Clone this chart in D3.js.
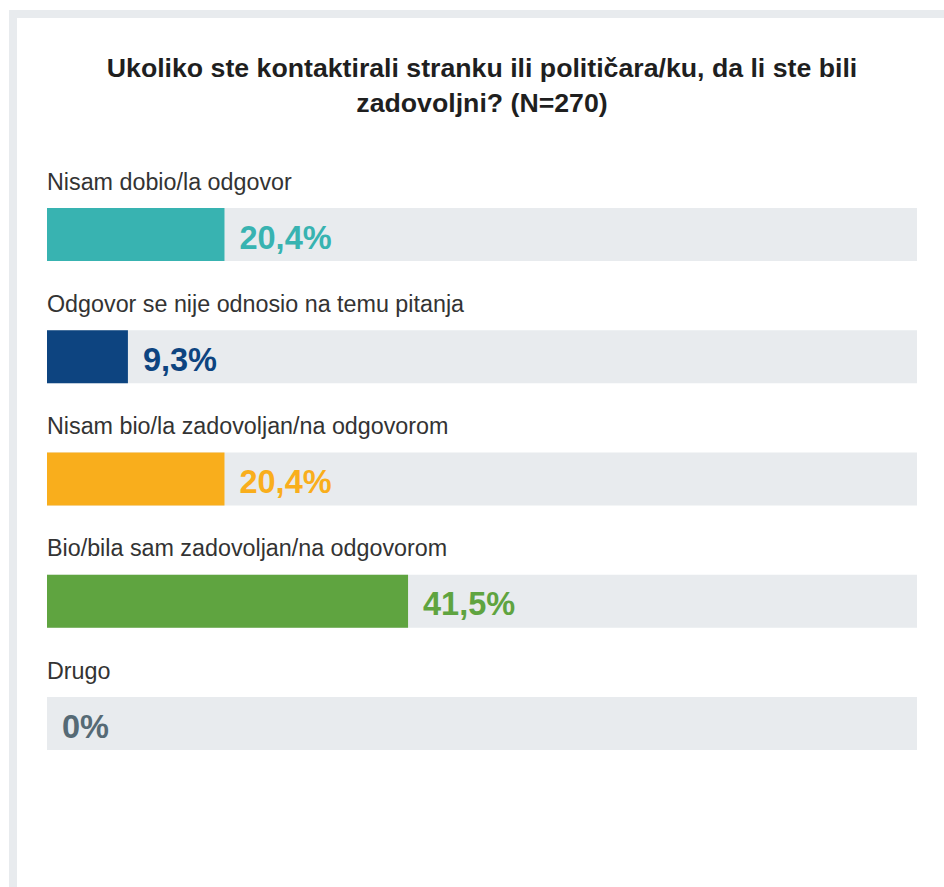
<!DOCTYPE html>
<html>
<head>
<meta charset="utf-8">
<script src="https://cdn.jsdelivr.net/npm/d3@7"></script>
<style>
  html, body { margin: 0; padding: 0; background: #fff; }
  svg { display: block; font-family: "Liberation Sans", Arial, Helvetica, sans-serif; }
</style>
</head>
<body>
<svg id="chart" width="944" height="887"></svg>
<script>
const titleLines = ['Ukoliko ste kontaktirali stranku ili političara/ku, da li ste bili', 'zadovoljni? (N=270)'];
const categories = [
  'Nisam dobio/la odgovor',
  'Odgovor se nije odnosio na temu pitanja',
  'Nisam bio/la zadovoljan/na odgovorom',
  'Bio/bila sam zadovoljan/na odgovorom',
  'Drugo'
];
const values = [20.4, 9.3, 20.4, 41.5, 0];
const colors = ['#38b3b1', '#0d4480', '#f9ae1c', '#5fa440', '#566a75'];

const svg = d3.select('#chart');

// frame
svg.append('rect').attr('x', 9).attr('y', 10).attr('width', 935).attr('height', 877).attr('fill', '#e8ebee');
svg.append('rect').attr('x', 17).attr('y', 18).attr('width', 927).attr('height', 869).attr('fill', '#fff');

svg.append('text')
  .attr('x', 482)
  .attr('text-anchor', 'middle')
  .style('font-size', '26.7px')
  .style('font-weight', 'bold')
  .attr('fill', '#1f1f1f')
  .selectAll('tspan')
  .data(titleLines)
  .join('tspan')
  .attr('x', 482)
  .attr('y', (d, i) => 77 + i * 35)
  .text(d => d);

const x = d3.scaleLinear().domain([0, 100]).range([47, 917]);
const y = d3.scalePoint().domain(categories).range([208, 697]);
const barH = 53;

const rows = svg.selectAll('g.row')
  .data(categories.map((c, i) => ({ cat: c, value: values[i], color: colors[i] })))
  .join('g')
  .attr('class', 'row');

rows.append('text')
  .attr('x', x(0))
  .attr('y', d => y(d.cat) - 18.5)
  .style('font-size', '23.3px')
  .attr('fill', '#333')
  .text(d => d.cat);

rows.append('rect')
  .attr('x', x(0))
  .attr('y', d => y(d.cat))
  .attr('width', x(100) - x(0))
  .attr('height', barH)
  .attr('fill', '#e8ebee');

rows.append('rect')
  .attr('x', x(0))
  .attr('y', d => y(d.cat))
  .attr('width', d => x(d.value) - x(0))
  .attr('height', barH)
  .attr('fill', d => d.color);

rows.append('text')
  .attr('x', d => x(d.value) + 15)
  .attr('y', d => y(d.cat) + 40.5)
  .style('font-size', '32.5px')
  .style('font-weight', 'bold')
  .attr('fill', d => d.color)
  .text(d => String(d.value).replace('.', ',') + '%');
</script>
</body>
</html>
